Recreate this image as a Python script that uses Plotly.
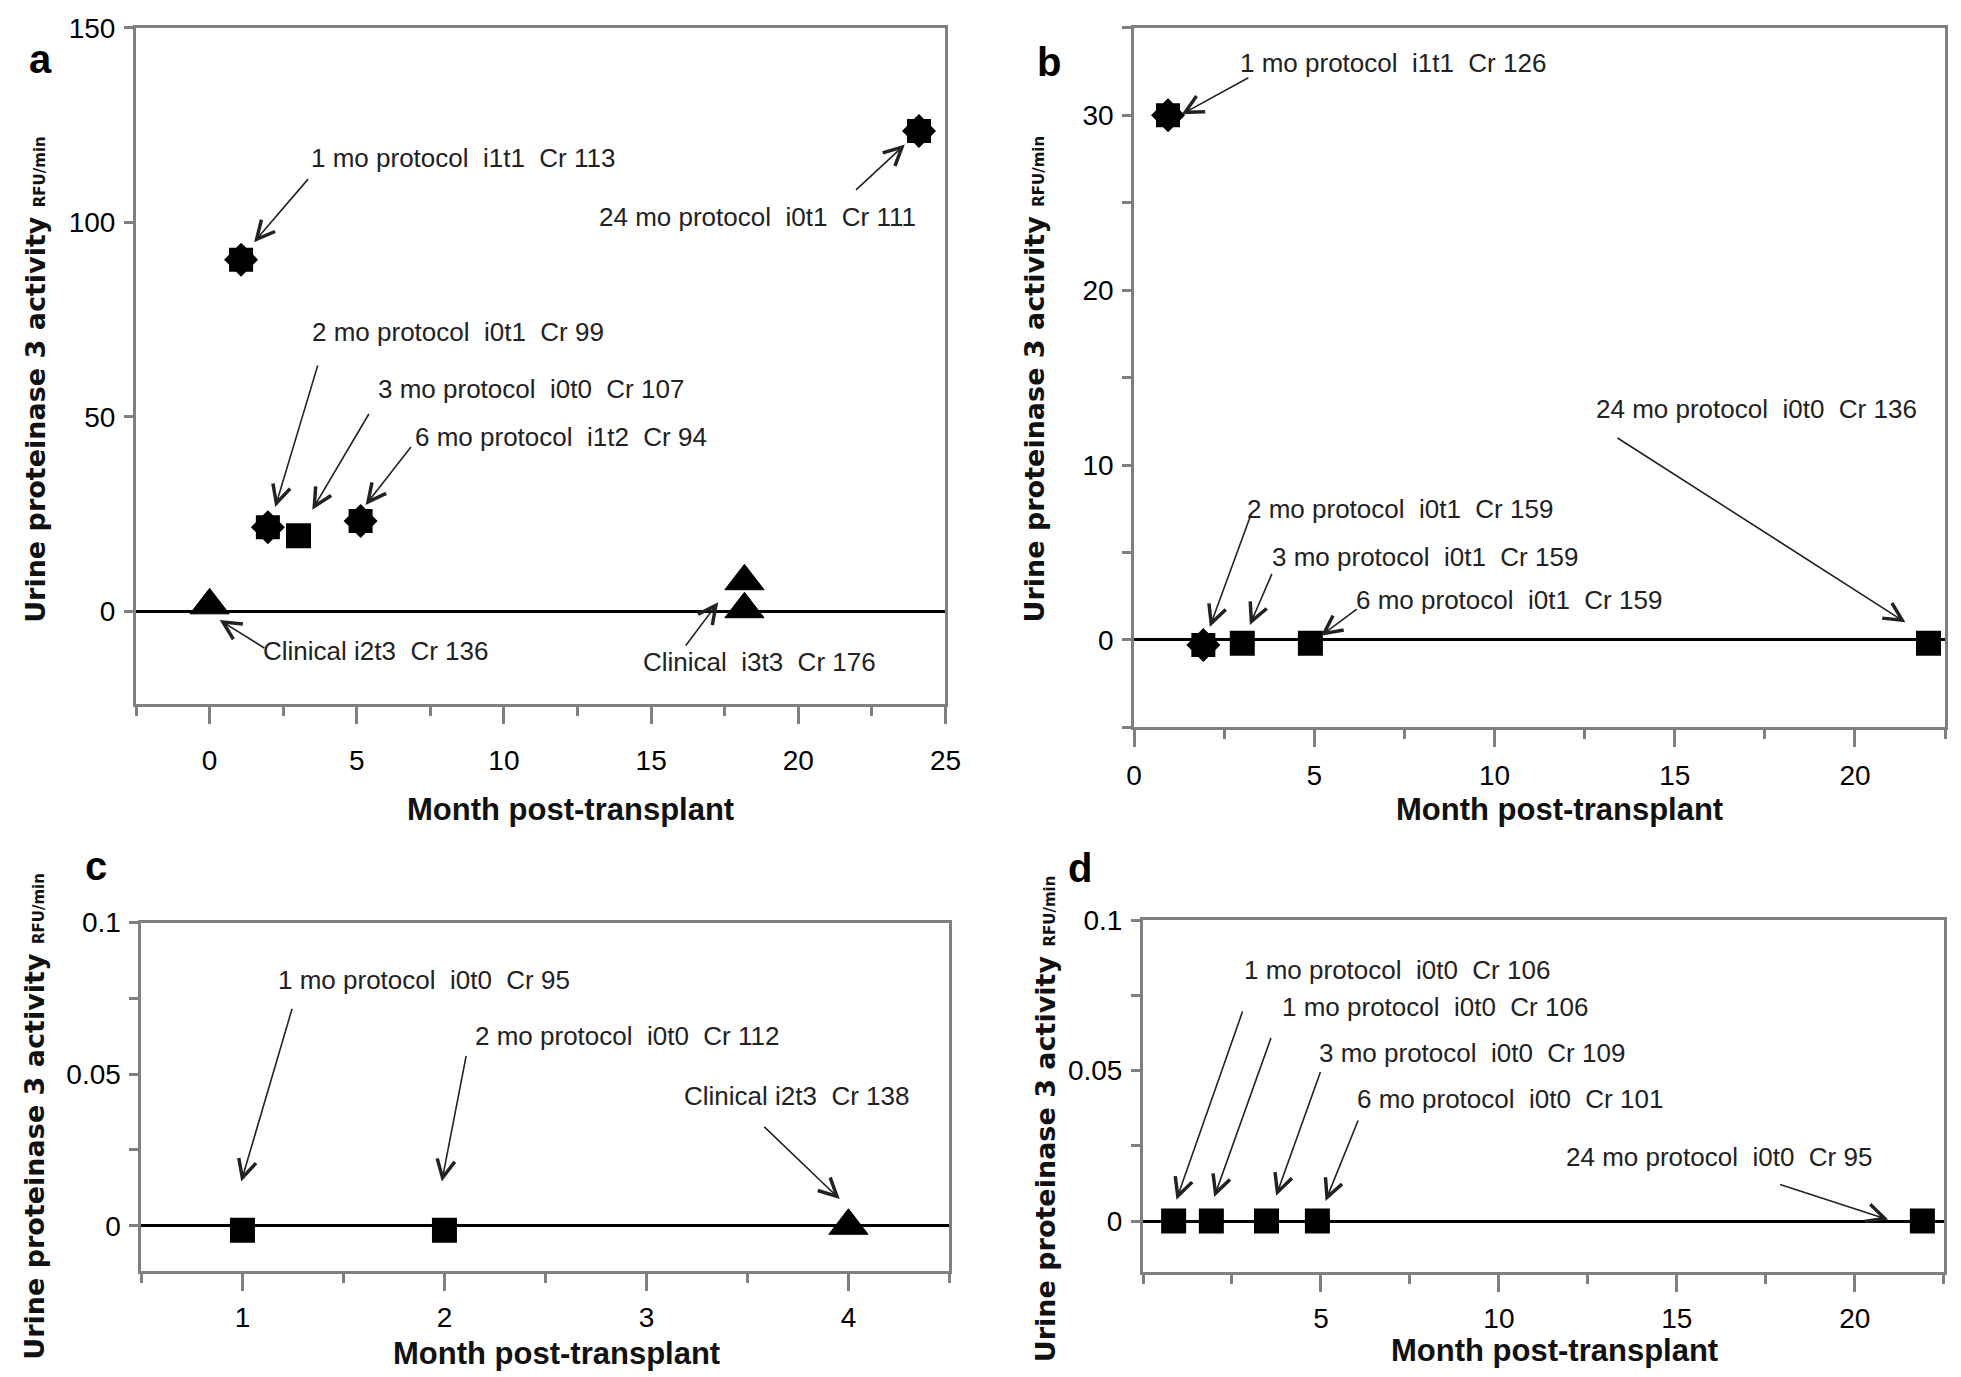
import plotly.graph_objects as go

W, H = 1961, 1377
NB = "\u00a0"

# ---------------- data ----------------
a_star_x = [1.07, 1.98, 5.13, 24.1]
a_star_y = [90.4, 21.6, 23.2, 123.5]
a_sq_x = [3.02]
a_sq_y = [19.4]
a_tri_x = [0, 18.17, 18.17]
a_tri_y = [1.5, 7.7, 0.5]

b_star_x = [0.94, 1.92]
b_star_y = [30.0, -0.3]
b_sq_x = [3.0, 4.89, 22.04]
b_sq_y = [-0.2, -0.2, -0.2]

c_sq_x = [1.0, 2.0]
c_sq_y = [-0.0015, -0.0015]
c_tri_x = [4.0]
c_tri_y = [0.0]

d_sq_x = [0.86, 1.92, 3.47, 4.9, 21.9]
d_sq_y = [0, 0, 0, 0, 0]

# annotation texts: (label, text x, text y, arrow tail x, tail y, head x, head y)
a_notes = [
    ("1 mo protocol  i1t1  Cr 113", 8.6, 116.6, 3.39, 111.5, 1.51, 94.9),
    ("24 mo protocol  i0t1  Cr 111", 18.6, 101.3, 21.91, 108.0, 23.62, 120.0),
    ("2 mo protocol  i0t1  Cr 99", 8.44, 71.7, 3.69, 63.6, 2.23, 26.8),
    ("3 mo protocol  i0t0  Cr 107", 10.92, 57.1, 5.44, 51.1, 3.49, 26.1),
    ("6 mo protocol  i1t2  Cr 94", 11.95, 44.9, 6.88, 42.6, 5.30, 27.3),
    ("Clinical i2t3  Cr 136", 5.64, -10.2, 1.91, -9.7, 0.34, -2.3),
    ("Clinical  i3t3  Cr 176", 18.69, -13.0, 16.14, -9.2, 17.28, 2.3),
]
b_notes = [
    ("1 mo protocol  i1t1  Cr 126", 7.19, 33.0, 3.21, 32.2, 1.32, 30.06),
    ("24 mo protocol  i0t0  Cr 136", 17.27, 13.18, 13.37, 11.6, 21.4, 1.0),
    ("2 mo protocol  i0t1  Cr 159", 7.37, 7.47, 3.26, 7.27, 2.10, 0.74),
    ("3 mo protocol  i0t1  Cr 159", 8.07, 4.72, 3.84, 3.86, 3.21, 0.85),
    ("6 mo protocol  i0t1  Cr 159", 10.41, 2.30, 6.22, 1.82, 5.18, 0.23),
]
c_notes = [
    ("1 mo protocol  i0t0  Cr 95", 1.897, 0.0812, 1.248, 0.0721, 0.994, 0.0146),
    ("2 mo protocol  i0t0  Cr 112", 2.903, 0.0627, 2.109, 0.0565, 1.987, 0.0146),
    ("Clinical i2t3  Cr 138", 3.742, 0.0429, 3.576, 0.0331, 3.957, 0.0088),
]
d_notes = [
    ("1 mo protocol  i0t0  Cr 106", 7.15, 0.0835, 2.81, 0.0701, 0.94, 0.0071),
    ("1 mo protocol  i0t0  Cr 106", 8.21, 0.0710, 3.61, 0.0613, 2.0, 0.0080),
    ("3 mo protocol  i0t0  Cr 109", 9.24, 0.0558, 5.0, 0.0500, 3.74, 0.0084),
    ("6 mo protocol  i0t0  Cr 101", 10.31, 0.0406, 6.06, 0.0339, 5.13, 0.0067),
    ("24 mo protocol  i0t0  Cr 95", 16.18, 0.0212, 17.86, 0.0123, 20.94, 0.0005),
]

x_title = "Month post-transplant"
y_title = "Urine proteinase 3 activity"
y_unit = "RFU/min"
panel_letters = ["a", "b", "c", "d"]

# ---------------- styling ----------------
SANS = "Liberation Sans, Arial, sans-serif"
BOLD = "DejaVu Sans, Verdana, sans-serif"
GRAY = "#7f7f7f"
TICK_SIZE = 28
NOTE_SIZE = 26
XT_SIZE = 31


def px_x(p):
    return p / W


def px_y(p):
    return 1 - p / H


fig = go.Figure()

STAR_SQ = 22
STAR_DIA = 24
SQ = 23
TRI = 34


def add_star(x, y, xa, ya):
    fig.add_trace(go.Scatter(x=x, y=y, mode="markers", xaxis=xa, yaxis=ya,
                             marker=dict(symbol="square", size=STAR_SQ, color="black",
                                         line=dict(color="black", width=2)),
                             showlegend=False, hoverinfo="skip"))
    fig.add_trace(go.Scatter(x=x, y=y, mode="markers", xaxis=xa, yaxis=ya,
                             marker=dict(symbol="diamond", size=STAR_DIA, color="black",
                                         line=dict(color="black", width=2)),
                             showlegend=False, hoverinfo="skip"))
    fig.add_trace(go.Scatter(x=x, y=y, mode="markers", xaxis=xa, yaxis=ya,
                             marker=dict(symbol="circle", size=STAR_DIA, color="black"),
                             showlegend=False, hoverinfo="skip"))


def add_sq(x, y, xa, ya):
    fig.add_trace(go.Scatter(x=x, y=y, mode="markers", xaxis=xa, yaxis=ya,
                             marker=dict(symbol="square", size=SQ, color="black",
                                         line=dict(color="black", width=2)),
                             showlegend=False, hoverinfo="skip"))


def add_tri(x, y, xa, ya):
    fig.add_trace(go.Scatter(x=x, y=y, mode="markers", xaxis=xa, yaxis=ya,
                             marker=dict(symbol="triangle-up", size=TRI, color="black",
                                         line=dict(color="black", width=1)),
                             showlegend=False, hoverinfo="skip"))


add_star(a_star_x, a_star_y, "x", "y")
add_sq(a_sq_x, a_sq_y, "x", "y")
add_tri(a_tri_x, a_tri_y, "x", "y")

add_star(b_star_x, b_star_y, "x2", "y2")
add_sq(b_sq_x, b_sq_y, "x2", "y2")

add_sq(c_sq_x, c_sq_y, "x3", "y3")
add_tri(c_tri_x, c_tri_y, "x3", "y3")

add_sq(d_sq_x, d_sq_y, "x4", "y4")


def xaxis(domain, rng, dtick, minor_dtick, anchor, standoff, tickvals=None):
    ax = dict(domain=domain, range=rng, anchor=anchor, showline=True, linecolor=GRAY,
              linewidth=3, mirror=True, ticks="outside", tickcolor=GRAY, tickwidth=2.5,
              ticklen=17, showgrid=False, zeroline=False, tick0=0, dtick=dtick,
              tickfont=dict(family=SANS, size=TICK_SIZE, color="black"),
              ticklabelstandoff=standoff,
              minor=dict(ticks="outside", dtick=minor_dtick, tick0=0, ticklen=9,
                         tickcolor=GRAY, tickwidth=2.5, showgrid=False))
    if tickvals is not None:
        ax.update(tickmode="array", tickvals=tickvals, ticktext=[str(v) for v in tickvals])
    return ax


def yaxis(domain, rng, dtick, minor_dtick, anchor):
    ax = dict(domain=domain, range=rng, anchor=anchor, showline=True, linecolor=GRAY,
              linewidth=3, mirror=True, ticks="outside", tickcolor=GRAY, tickwidth=2.5,
              ticklen=9, showgrid=False, zeroline=True, zerolinecolor="black",
              zerolinewidth=2.5, tick0=0, dtick=dtick,
              tickfont=dict(family=SANS, size=TICK_SIZE, color="black"),
              ticklabelstandoff=3)
    if minor_dtick:
        ax["minor"] = dict(ticks="outside", dtick=minor_dtick, tick0=0, ticklen=9,
                           tickcolor=GRAY, tickwidth=2.5, showgrid=False)
    return ax


fig.update_layout(
    width=W, height=H, margin=dict(l=0, r=0, t=0, b=0),
    paper_bgcolor="white", plot_bgcolor="white", showlegend=False,
    xaxis=xaxis([px_x(121.5), px_x(941)], [-2.5, 25], 5, 2.5, "y", 12),
    yaxis=yaxis([px_y(689), px_y(5)], [-24, 150], 50, None, "x"),
    xaxis2=xaxis([px_x(1132), px_x(1953)], [0, 22.5], 5, 2.5, "y2", 4),
    yaxis2=yaxis([px_y(712), px_y(5)], [-5, 35], 10, 5, "x2"),
    xaxis3=xaxis([px_x(127), px_x(945)], [0.5, 4.5], 1, 0.5, "y3", 2),
    yaxis3=yaxis([px_y(1262), px_y(909.5)], [-0.015, 0.1], 0.05, 0.025, "x3"),
    xaxis4=xaxis([px_x(1141), px_x(1951.6)], [0, 22.5], 5, 2.5, "y4", 2,
                 tickvals=[5, 10, 15, 20]),
    yaxis4=yaxis([px_y(1263), px_y(907)], [-0.017, 0.1], 0.05, 0.025, "x4"),
)

annotations = []


def add_notes(notes, xr, yr):
    for (txt, tx, ty, ax_, ay_, hx, hy) in notes:
        annotations.append(dict(x=tx, y=ty, xref=xr, yref=yr, text=txt.replace(" ", NB),
                                showarrow=False, xanchor="center", yanchor="middle",
                                font=dict(family=SANS, size=NOTE_SIZE, color="#222222")))
        annotations.append(dict(x=hx, y=hy, ax=ax_, ay=ay_, xref=xr, yref=yr,
                                axref=xr, ayref=yr, text="", showarrow=True,
                                arrowhead=5, arrowsize=2.2, arrowwidth=1.6,
                                arrowcolor="#222222"))


add_notes(a_notes, "x", "y")
add_notes(b_notes, "x2", "y2")
add_notes(c_notes, "x3", "y3")
add_notes(d_notes, "x4", "y4")

# axis titles
for (cx, cy) in [(561, 795), (1563, 795), (547, 1345), (1558, 1342)]:
    annotations.append(dict(x=px_x(cx), y=px_y(cy), xref="paper", yref="paper",
                            text="<b>" + x_title + "</b>", showarrow=False,
                            xanchor="center", yanchor="middle",
                            font=dict(family=SANS, size=XT_SIZE, color="#111111")))

for (cx, cy) in [(19, 360), (1031, 360), (19, 1105), (1043, 1108)]:
    annotations.append(dict(x=px_x(cx), y=px_y(cy), xref="paper", yref="paper",
                            text="<b>" + y_title + " <span style='font-size:15px'>" + y_unit
                                 + "</span></b>",
                            showarrow=False, textangle=-90, xanchor="center",
                            yanchor="middle",
                            font=dict(family=BOLD, size=27, color="#111111")))

for lab, (cx, cy) in zip(panel_letters, [(25, 36), (1046, 39), (81, 852), (1077, 854)]):
    annotations.append(dict(x=px_x(cx), y=px_y(cy), xref="paper", yref="paper",
                            text="<b>" + lab + "</b>", showarrow=False, xanchor="center",
                            yanchor="middle",
                            font=dict(family=SANS, size=40, color="black")))

fig.update_layout(annotations=annotations)
fig.write_html("out.html")
